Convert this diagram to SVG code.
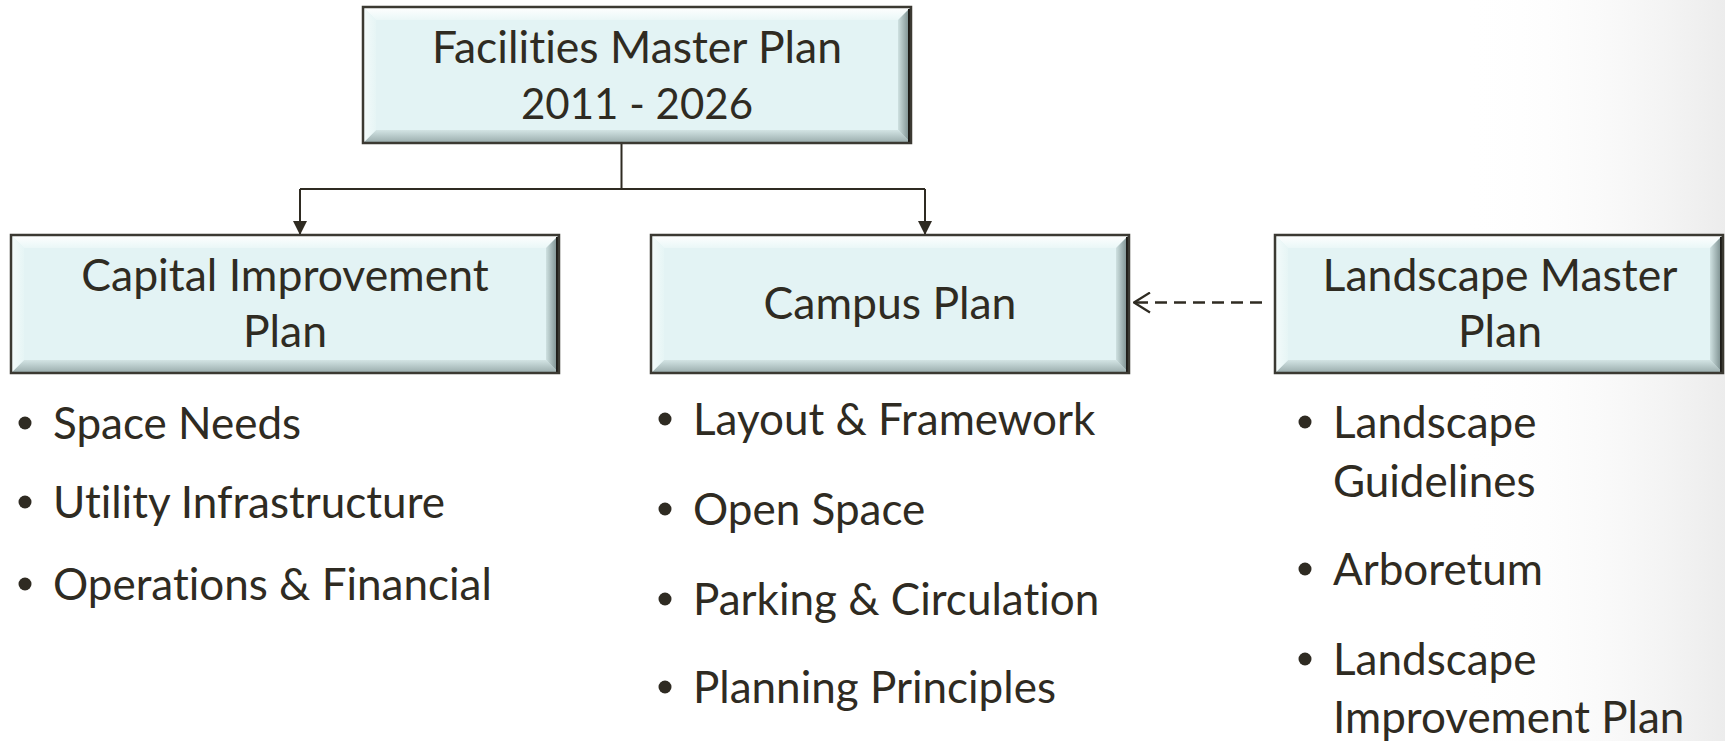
<svg xmlns="http://www.w3.org/2000/svg" width="1725" height="741" viewBox="0 0 1725 741">
<style>
text{font-variant-ligatures:none;font-feature-settings:"liga" 0,"clig" 0,"dlig" 0}
.bx{fill:#e3f3f4}
.bt{fill:url(#gT)}
.bb{fill:url(#gB)}
.bl{fill:url(#gL)}
.br{fill:url(#gR)}
.bo{fill:none;stroke:#3b3932;stroke-width:2.5}
.sh{stroke:#1e1c18;stroke-width:4}
.lbl{font-family:Lato,"Open Sans",sans-serif;font-size:44.5px;fill:#2f2b22;text-anchor:middle}
.yr{font-size:42px}
.itm{font-family:Lato,"Open Sans",sans-serif;font-size:44px;fill:#2f2b22}
.dot{fill:#2f2b22}
.ln{fill:none;stroke:#2f2b22;stroke-width:2}
.dsh{fill:none;stroke:#2f2b22;stroke-width:2.4;stroke-dasharray:12 7}
</style>
<defs>
<linearGradient id="bg" x1="0" y1="0" x2="1" y2="0"><stop offset="0" stop-color="#ffffff" stop-opacity="0"/><stop offset="1" stop-color="#ececec"/></linearGradient>
<linearGradient id="gT" x1="0" y1="0" x2="0" y2="1"><stop offset="0" stop-color="#ffffff"/><stop offset="1" stop-color="#eaf7f7"/></linearGradient>
<linearGradient id="gB" x1="0" y1="0" x2="0" y2="1"><stop offset="0" stop-color="#d3e4e4"/><stop offset="1" stop-color="#98abab"/></linearGradient>
<linearGradient id="gL" x1="0" y1="0" x2="1" y2="0"><stop offset="0" stop-color="#f4fbfb"/><stop offset="1" stop-color="#e6f5f5"/></linearGradient>
<linearGradient id="gR" x1="0" y1="0" x2="1" y2="0"><stop offset="0" stop-color="#cfe1e1"/><stop offset="1" stop-color="#6e8181"/></linearGradient>
<marker id="ah" markerUnits="userSpaceOnUse" markerWidth="14" markerHeight="14" viewBox="0 0 14 14" refX="14" refY="7" orient="auto"><path d="M0,0 L14,7 L0,14 Z" fill="#2f2b22"/></marker>
<marker id="oa" markerUnits="userSpaceOnUse" markerWidth="18" markerHeight="22" viewBox="0 0 18 22" refX="17" refY="11" orient="auto"><path d="M1,1 L17,11 L1,21" fill="none" stroke="#2f2b22" stroke-width="2.2"/></marker>
</defs>
<rect x="1460" y="0" width="265" height="741" fill="url(#bg)"/>

<g id="connectors">
<path class="ln" d="M621.5,143 V189"/>
<path class="ln" d="M300,189 H925"/>
<path class="ln" d="M300,189 V235" marker-end="url(#ah)"/>
<path class="ln" d="M925,189 V235" marker-end="url(#ah)"/>
<path class="dsh" d="M1262,302.5 H1134" marker-end="url(#oa)"/>
</g>

<g id="node-fmp">
<rect class="bx" x="363" y="7" width="548" height="136"/>
<polygon class="bt" points="363,7 911,7 898,20 376,20"/>
<polygon class="bb" points="363,143 911,143 898,130 376,130"/>
<polygon class="bl" points="363,7 376,20 376,130 363,143"/>
<polygon class="br" points="911,7 898,20 898,130 911,143"/>
<line class="sh" x1="910" y1="9" x2="910" y2="143"/>
<rect class="bo" x="363" y="7" width="548" height="136"/>
<text class="lbl" x="637" y="63">Facilities Master Plan</text>
<text class="lbl yr" x="637" y="119">2011 - 2026</text>
</g>

<g id="node-cip">
<rect class="bx" x="11" y="235" width="548" height="138"/>
<polygon class="bt" points="11,235 559,235 546,248 24,248"/>
<polygon class="bb" points="11,373 559,373 546,360 24,360"/>
<polygon class="bl" points="11,235 24,248 24,360 11,373"/>
<polygon class="br" points="559,235 546,248 546,360 559,373"/>
<line class="sh" x1="558" y1="237" x2="558" y2="373"/>
<rect class="bo" x="11" y="235" width="548" height="138"/>
<text class="lbl" x="285" y="291">Capital Improvement</text>
<text class="lbl" x="285" y="347">Plan</text>
</g>

<g id="node-cp">
<rect class="bx" x="651" y="235" width="478" height="138"/>
<polygon class="bt" points="651,235 1129,235 1116,248 664,248"/>
<polygon class="bb" points="651,373 1129,373 1116,360 664,360"/>
<polygon class="bl" points="651,235 664,248 664,360 651,373"/>
<polygon class="br" points="1129,235 1116,248 1116,360 1129,373"/>
<line class="sh" x1="1128" y1="237" x2="1128" y2="373"/>
<rect class="bo" x="651" y="235" width="478" height="138"/>
<text class="lbl" x="890" y="319">Campus Plan</text>
</g>

<g id="node-lmp">
<rect class="bx" x="1275" y="235" width="448" height="138"/>
<polygon class="bt" points="1275,235 1723,235 1710,248 1288,248"/>
<polygon class="bb" points="1275,373 1723,373 1710,360 1288,360"/>
<polygon class="bl" points="1275,235 1288,248 1288,360 1275,373"/>
<polygon class="br" points="1723,235 1710,248 1710,360 1723,373"/>
<line class="sh" x1="1722" y1="237" x2="1722" y2="373"/>
<rect class="bo" x="1275" y="235" width="448" height="138"/>
<text class="lbl" x="1500" y="291">Landscape Master</text>
<text class="lbl" x="1500" y="347">Plan</text>
</g>

<g id="list-cip">
<circle class="dot" cx="25" cy="423" r="6.5"/>
<text class="itm" x="53" y="439">Space Needs</text>
<circle class="dot" cx="25" cy="502" r="6.5"/>
<text class="itm" x="53" y="518">Utility Infrastructure</text>
<circle class="dot" cx="25" cy="584" r="6.5"/>
<text class="itm" x="53" y="600">Operations &amp; Financial</text>
</g>

<g id="list-cp">
<circle class="dot" cx="665" cy="419" r="6.5"/>
<text class="itm" x="693" y="435">Layout &amp; Framework</text>
<circle class="dot" cx="665" cy="509" r="6.5"/>
<text class="itm" x="693" y="525">Open Space</text>
<circle class="dot" cx="665" cy="599" r="6.5"/>
<text class="itm" x="693" y="615">Parking &amp; Circulation</text>
<circle class="dot" cx="665" cy="687" r="6.5"/>
<text class="itm" x="693" y="703">Planning Principles</text>
</g>

<g id="list-lmp">
<circle class="dot" cx="1305" cy="422" r="6.5"/>
<text class="itm" x="1333" y="438">Landscape</text>
<text class="itm" x="1333" y="497">Guidelines</text>
<circle class="dot" cx="1305" cy="569" r="6.5"/>
<text class="itm" x="1333" y="585">Arboretum</text>
<circle class="dot" cx="1305" cy="659" r="6.5"/>
<text class="itm" x="1333" y="675">Landscape</text>
<text class="itm" x="1333" y="733">Improvement Plan</text>
</g>
</svg>
